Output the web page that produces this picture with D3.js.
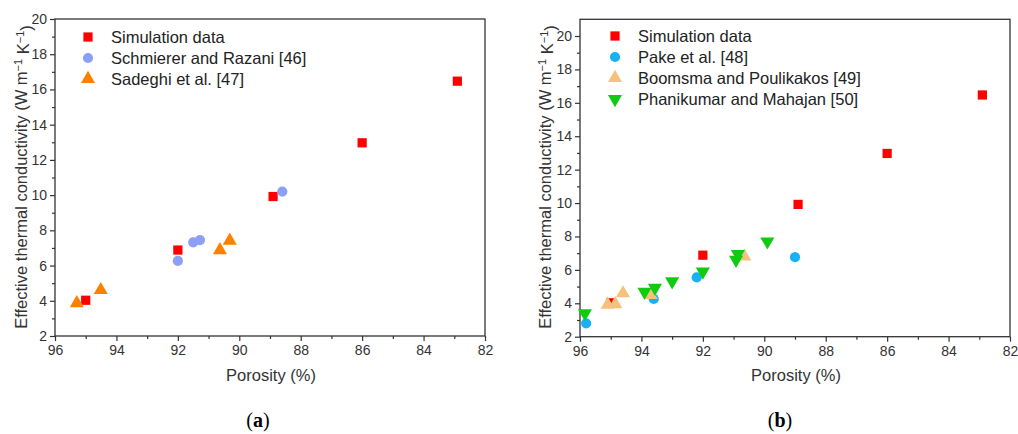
<!DOCTYPE html>
<html>
<head>
<meta charset="utf-8">
<script src="https://cdn.jsdelivr.net/npm/d3@7"></script>
<style>
  body { margin: 0; background: #fff; }
  svg { font-family: "Liberation Sans", Arial, sans-serif; }
  .tick text { font-size: 14px; fill: #333; }
</style>
</head>
<body>
<svg id="chart" width="1018" height="434"></svg>
<script>
// porosity (%) / effective thermal conductivity (W m-1 K-1)
const simulation = [[95.0, 4.03], [92.0, 6.88], [88.9, 9.92], [86.0, 12.97], [82.9, 16.47]]
const schmierer = [[92.0, 6.26], [91.5, 7.32], [91.28, 7.45], [88.6, 10.2]]
const sadeghi = [[95.29, 3.86], [94.51, 4.61], [90.63, 6.88], [90.31, 7.41]]
const pake = [[95.8, 2.8], [93.6, 4.26], [92.2, 5.55], [89.0, 6.76]]
const boomsma = [[95.1, 3.92], [94.85, 3.95], [94.6, 4.6], [93.7, 4.5], [90.65, 6.8]]
const phanikumar = [[95.84, 3.4], [93.9, 4.68], [93.56, 4.93], [93.0, 5.32], [92.0, 5.9],
  [90.92, 6.6], [90.86, 6.95], [89.9, 7.7]]

const xTicks = [96, 94, 92, 90, 88, 86, 84, 82]
const xMinor = [95, 93, 91, 89, 87, 85, 83]

const panels = [
  {
    box: { left: 55, right: 485, top: 19, bottom: 336 },
    yDomain: [2, 20], yTicks: [2, 4, 6, 8, 10, 12, 14, 16, 18, 20],
    yMinor: [3, 5, 7, 9, 11, 13, 15, 17, 19],
    yLabelX: 21, legend: { x: 88, y: 37 }, tag: '(a)', tagX: 258,
    series: [
      { name: 'Simulation data', data: simulation, shape: 'square', color: '#ff0000' },
      { name: 'Schmierer and Razani [46]', data: schmierer, shape: 'circle', color: '#8ca1f5' },
      { name: 'Sadeghi et al. [47]', data: sadeghi, shape: 'up', color: '#ff8000' },
    ],
  },
  {
    box: { left: 580, right: 1010, top: 19.3, bottom: 336.7 },
    yDomain: [2, 21], yTicks: [2, 4, 6, 8, 10, 12, 14, 16, 18, 20],
    yMinor: [3, 5, 7, 9, 11, 13, 15, 17, 19],
    yLabelX: 545, legend: { x: 615, y: 36 }, tag: '(b)', tagX: 780,
    series: [
      { name: 'Simulation data', data: simulation, shape: 'square', color: '#ff0000' },
      { name: 'Pake et al. [48]', data: pake, shape: 'circle', color: '#18b2f4' },
      { name: 'Boomsma and Poulikakos [49]', data: boomsma, shape: 'up', color: '#f6c27b' },
      { name: 'Phanikumar and Mahajan [50]', data: phanikumar, shape: 'down', color: '#10cc10' },
    ],
  },
]

const symbols = {
  square: { type: d3.symbolSquare, size: 85, rot: 0 },
  circle: { type: d3.symbolCircle, size: 82, rot: 0 },
  up: { type: d3.symbolTriangle, size: 86, rot: 0 },
  down: { type: d3.symbolTriangle, size: 86, rot: 180 },
}

const svg = d3.select('#chart')
const axisColor = '#333'

function drawPanel(p) {
  const { box } = p
  const x = d3.scaleLinear().domain([96, 82]).range([box.left, box.right])
  const y = d3.scaleLinear().domain(p.yDomain).range([box.bottom, box.top])
  const g = svg.append('g')

  // minor ticks
  g.append('g')
    .attr('transform', `translate(0,${box.bottom})`)
    .call(d3.axisBottom(x).tickValues(xMinor).tickSize(3).tickFormat(''))
  g.append('g')
    .attr('transform', `translate(${box.left},0)`)
    .call(d3.axisLeft(y).tickValues(p.yMinor).tickSize(3).tickFormat(''))

  // major ticks
  g.append('g')
    .attr('transform', `translate(0,${box.bottom})`)
    .call(d3.axisBottom(x).tickValues(xTicks).tickSize(5).tickPadding(4).tickFormat(d3.format('d')))
  g.append('g')
    .attr('transform', `translate(${box.left},0)`)
    .call(d3.axisLeft(y).tickValues(p.yTicks).tickSize(5).tickPadding(3).tickFormat(d3.format('d')))

  g.selectAll('.domain').remove()
  g.selectAll('.tick line').attr('stroke', axisColor).attr('stroke-width', 1.2)

  // frame
  g.append('rect')
    .attr('x', box.left).attr('y', box.top)
    .attr('width', box.right - box.left).attr('height', box.bottom - box.top)
    .attr('fill', 'none').attr('stroke', axisColor).attr('stroke-width', 1.3)

  // points
  p.series.forEach(s => {
    const sym = symbols[s.shape]
    g.append('g')
      .selectAll('path')
      .data(s.data)
      .join('path')
        .attr('d', d3.symbol().type(sym.type).size(sym.size))
        .attr('transform', d => `translate(${x(d[0])},${y(d[1])}) rotate(${sym.rot})`)
        .attr('fill', s.color)
  })

  // legend
  const lg = g.append('g').attr('transform', `translate(${p.legend.x},${p.legend.y})`)
  p.series.forEach((s, i) => {
    const sym = symbols[s.shape]
    lg.append('path')
      .attr('d', d3.symbol().type(sym.type).size(sym.size))
      .attr('transform', `translate(0,${i * 21}) rotate(${sym.rot})`)
      .attr('fill', s.color)
    lg.append('text')
      .attr('x', 23).attr('y', i * 21)
      .attr('dy', '0.35em')
      .attr('font-size', 16.5)
      .attr('fill', '#222')
      .text(s.name)
  })

  // axis titles
  g.append('text')
    .attr('x', (box.left + box.right) / 2 + 1)
    .attr('y', 381)
    .attr('text-anchor', 'middle')
    .attr('font-size', 16.5)
    .attr('fill', '#333')
    .text('Porosity (%)')

  const yl = g.append('text')
    .attr('transform', `translate(${p.yLabelX},177) rotate(-90)`)
    .attr('text-anchor', 'middle')
    .attr('dy', '0.35em')
    .attr('font-size', 16.5)
    .attr('fill', '#333')
  yl.append('tspan').text('Effective thermal conductivity (W m')
  yl.append('tspan').attr('dy', '-0.45em').attr('font-size', 11).text('\u22121')
  yl.append('tspan').attr('dy', '0.45em').text(' K')
  yl.append('tspan').attr('dy', '-0.45em').attr('font-size', 11).text('\u22121')
  yl.append('tspan').attr('dy', '0.45em').text(')')

  // panel tag
  const tag = svg.append('text')
    .attr('x', p.tagX).attr('y', 427)
    .attr('text-anchor', 'middle')
    .attr('font-family', '"Liberation Serif", "Times New Roman", serif')
    .attr('font-size', 20)
    .attr('fill', '#000')
  tag.append('tspan').text('(')
  tag.append('tspan').attr('font-weight', 'bold').text(p.tag.slice(1, 2))
  tag.append('tspan').text(')')
}

panels.forEach(drawPanel)
</script>
</body>
</html>
